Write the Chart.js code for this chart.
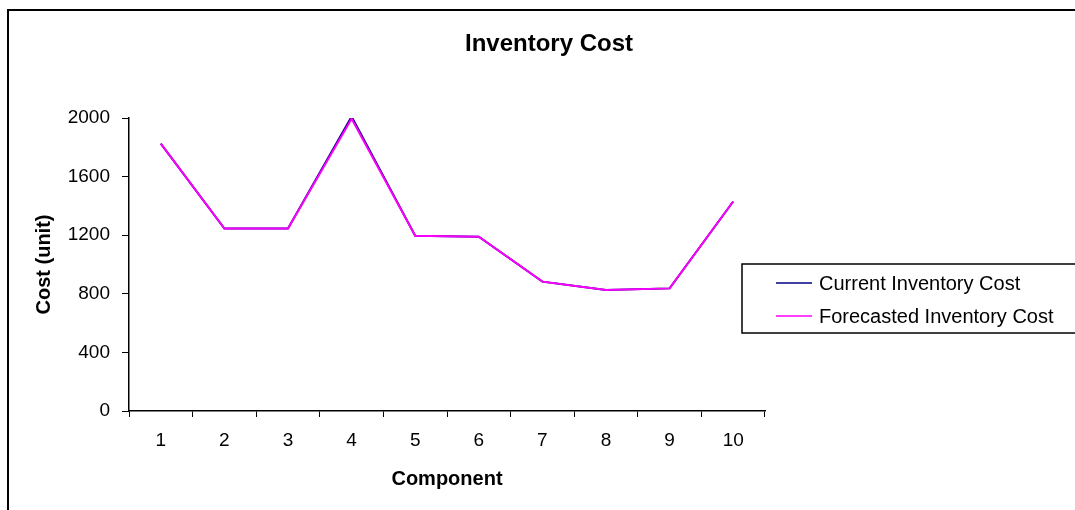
<!DOCTYPE html>
<html>
<head>
<meta charset="utf-8">
<script src="https://cdn.jsdelivr.net/npm/chart.js@4"></script>
<style>
  html, body { margin: 0; padding: 0; background: #fff; }
  #grafico { display: block; }
</style>
</head>
<body>
<canvas id="grafico" width="1075" height="510"></canvas>
<script>
var componentes = ['1', '2', '3', '4', '5', '6', '7', '8', '9', '10'];
var custoAtual = [1825, 1245, 1245, 2010, 1197, 1190, 883, 826, 837, 1430];
var custoPrevisto = [1825, 1245, 1245, 1995, 1197, 1190, 883, 826, 837, 1430];
var ticksY = [0, 400, 800, 1200, 1600, 2000];

var fonte = "'Liberation Sans', Arial, sans-serif";

// moldura, titulo e legenda desenhados a mao (estilo Excel)
var extras = {
    id: 'extras',
    afterDraw: function (chart) {
        var ctx = chart.ctx;
        ctx.save();
        ctx.strokeStyle = '#000';
        ctx.lineWidth = 2;
        ctx.beginPath();
        ctx.moveTo(8, 600);
        ctx.lineTo(8, 10);
        ctx.lineTo(1200, 10);
        ctx.stroke();

        ctx.fillStyle = '#000';
        ctx.font = "bold 24px " + fonte;
        ctx.textAlign = 'center';
        ctx.textBaseline = 'middle';
        ctx.fillText('Inventory Cost', 549, 44);

        ctx.lineWidth = 1.5;
        ctx.strokeRect(742, 264, 400, 69);
        ctx.font = "20px " + fonte;
        ctx.textAlign = 'left';
        // legenda na ordem dos datasets
        chart.data.datasets.forEach(function (ds, i) {
            var y = 283 + i * 33;
            ctx.strokeStyle = ds.borderColor;
            ctx.lineWidth = 1.5;
            ctx.beginPath();
            ctx.moveTo(776, y);
            ctx.lineTo(812, y);
            ctx.stroke();
            ctx.fillText(ds.label, 819, y + 1);
        });
        ctx.restore();
    }
};

var ctx = document.getElementById('grafico').getContext('2d');

var grafico = new Chart(ctx, {
    type: 'line',
    data: {
        labels: componentes,
        datasets: [
            {
                label: 'Current Inventory Cost',
                data: custoAtual,
                borderColor: '#000080',
                borderWidth: 2,
                pointRadius: 0,
                tension: 0,
                order: 1
            },
            {
                label: 'Forecasted Inventory Cost',
                data: custoPrevisto,
                borderColor: '#FF00FF',
                borderWidth: 2,
                pointRadius: 0,
                tension: 0,
                order: 0
            }
        ]
    },
    options: {
        responsive: false,
        animation: false,
        layout: { padding: { left: 30, top: 118, right: 310, bottom: 18 } },
        plugins: {
            legend: { display: false },
            title: { display: false },
            tooltip: { enabled: false }
        },
        scales: {
            x: {
                type: 'category',
                offset: true,
                grid: { display: true, offset: true, drawOnChartArea: false, drawTicks: true, tickLength: 6, color: '#000' },
                border: { display: true, color: '#000', width: 1.5 },
                ticks: { color: '#000', font: { family: fonte, size: 19 }, padding: 12, maxRotation: 0 },
                title: { display: true, text: 'Component', color: '#000', font: { family: fonte, size: 20, weight: 'bold' }, padding: { top: 0, bottom: 1 } },
                afterFit: function (scale) { scale.height = 81; }
            },
            y: {
                min: 0,
                max: 2000,
                afterBuildTicks: function (scale) {
                    scale.ticks = ticksY.map(function (v) { return { value: v }; });
                },
                grid: { display: true, drawOnChartArea: false, drawTicks: true, tickLength: 7, color: '#000' },
                border: { display: true, color: '#000', width: 1.5 },
                ticks: {
                    color: '#000',
                    font: { family: fonte, size: 19 },
                    padding: 12,
                    callback: function (valor) { return String(valor); }
                },
                title: { display: true, text: 'Cost (unit)', color: '#000', font: { family: fonte, size: 20, weight: 'bold' }, padding: { top: 2, bottom: 0 } },
                afterFit: function (scale) { scale.width = 99; }
            }
        }
    },
    plugins: [extras]
});
</script>
</body>
</html>
